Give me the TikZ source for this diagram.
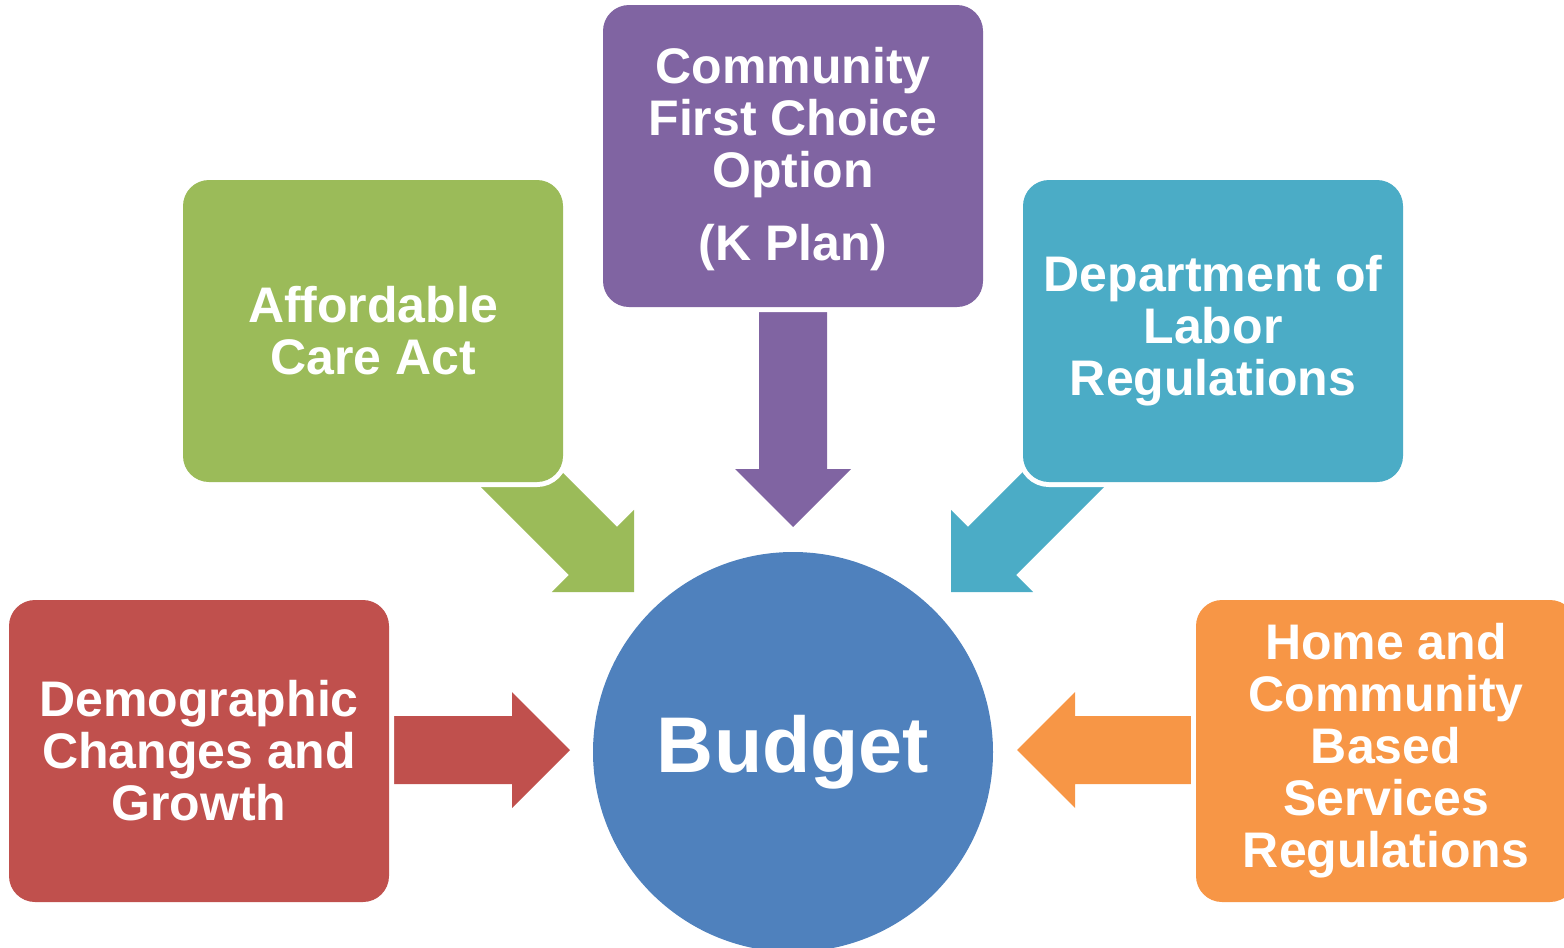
\documentclass[tikz,border=0pt]{standalone}
\usepackage{fontspec}
\setmainfont{Liberation Sans}
\definecolor{cgreen}{HTML}{9BBB59}
\definecolor{cpurple}{HTML}{8064A2}
\definecolor{cteal}{HTML}{4BACC6}
\definecolor{cred}{HTML}{C0504D}
\definecolor{corange}{HTML}{F79646}
\definecolor{cblue}{HTML}{4F81BD}
\newcommand\blockarr[4]{%
  \fill[#1, shift={(#2)}, rotate=#3] (0,0) -- (-58,-58) -- (-58,-34) -- (-#4,-34)
    -- (-#4,34) -- (-58,34) -- (-58,58) -- cycle;}
\begin{document}
\begin{tikzpicture}[x=1pt,y=-1pt,
  box/.style={rounded corners=26pt, minimum width=380pt, minimum height=302pt,
    inner sep=0pt, text=white, align=center,
    font=\bfseries\fontsize{50}{52}\selectfont,
    preaction={draw=white, line width=10pt}},
  hub/.style={circle, fill=cblue, minimum size=400pt, inner sep=0pt, text=white,
    font=\bfseries\fontsize{79}{80}\selectfont}]
\useasboundingbox (0,0) rectangle (1564,948);
\clip (0,0) rectangle (1564,948);
% arrow tips
\coordinate (tipR) at (570,750);
\coordinate (tipO) at (1017,750);
\coordinate (tipP) at (793,527);
\coordinate (tipG) at (634,592);
\coordinate (tipT) at (951,592);
\blockarr{cred}{tipR}{0}{200}
\blockarr{corange}{tipO}{180}{200}
\blockarr{cpurple}{tipP}{-90}{240}
\blockarr{cgreen}{tipG}{-45}{200}
\blockarr{cteal}{tipT}{-135}{200}
% boxes
\node[box, fill=cgreen] (aca) at (373,331) {Affordable\\Care Act};
\node[box, fill=cpurple] (cfc) at (793,156) {};
\node[text=white, align=center, font=\bfseries\fontsize{50}{52}\selectfont, inner sep=0pt]
  (cfct) at (793,159) {Community\\First Choice\\Option\\[21pt](K Plan)};
\node[box, fill=cteal] (dol) at (1213,331) {Department of\\Labor\\Regulations};
\node[box, fill=cred] (dem) at (199,751) {Demographic\\Changes and\\Growth};
\node[box, fill=corange] (hcb) at (1386,751) {Home and\\Community\\Based\\Services\\Regulations};
\node[hub] (budget) at (793,752) {Budget};
\end{tikzpicture}
\end{document}
